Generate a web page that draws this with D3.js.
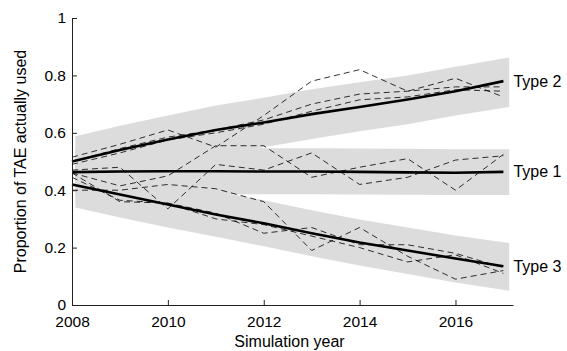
<!DOCTYPE html>
<html>
<head>
<meta charset="utf-8">
<script src="https://cdnjs.cloudflare.com/ajax/libs/d3/7.8.5/d3.min.js"></script>
<style>
  body { margin: 0; background: #fff; }
  text { font-family: "Liberation Sans", Arial, sans-serif; }
</style>
</head>
<body>
<div class="chart"></div>
<script>
// simulation years
var years = [2008, 2009, 2010, 2011, 2012, 2013, 2014, 2015, 2016, 2017];
var bandYears = [2008.07, 2009, 2010, 2011, 2012, 2013, 2014, 2015, 2016, 2017.12];

// mean proportion per type
var type1Mean = [0.463, 0.465, 0.466, 0.466, 0.465, 0.465, 0.464, 0.462, 0.461, 0.464];
var type2Mean = [0.50, 0.54, 0.577, 0.61, 0.636, 0.665, 0.69, 0.716, 0.745, 0.78];
var type3Mean = [0.42, 0.385, 0.35, 0.315, 0.285, 0.25, 0.218, 0.19, 0.162, 0.135];

// shaded range per type
var type1Lo = [0.385, 0.385, 0.386, 0.386, 0.386, 0.386, 0.385, 0.384, 0.383, 0.383];
var type1Hi = [0.545, 0.545, 0.546, 0.546, 0.546, 0.546, 0.545, 0.544, 0.543, 0.543];
var type2Lo = [0.415, 0.455, 0.49, 0.522, 0.55, 0.578, 0.605, 0.63, 0.66, 0.69];
var type2Hi = [0.588, 0.625, 0.66, 0.695, 0.722, 0.752, 0.776, 0.8, 0.83, 0.862];
var type3Lo = [0.34, 0.305, 0.27, 0.238, 0.205, 0.17, 0.138, 0.108, 0.078, 0.05];
var type3Hi = [0.5, 0.465, 0.43, 0.395, 0.365, 0.33, 0.298, 0.27, 0.242, 0.216];

// individual runs (dashed)
var type1Runs = [
  [0.47, 0.48, 0.335, 0.49, 0.47, 0.53, 0.42, 0.445, 0.505, 0.52],
  [0.46, 0.415, 0.45, 0.555, 0.555, 0.445, 0.48, 0.51, 0.40, 0.525]
];
var type2Runs = [
  [0.515, 0.56, 0.61, 0.55, 0.66, 0.78, 0.82, 0.745, 0.79, 0.725],
  [0.50, 0.545, 0.585, 0.61, 0.645, 0.70, 0.735, 0.745, 0.76, 0.76],
  [0.49, 0.53, 0.575, 0.6, 0.63, 0.675, 0.715, 0.725, 0.75, 0.745]
];
var type3Runs = [
  [0.40, 0.40, 0.42, 0.405, 0.36, 0.19, 0.27, 0.17, 0.09, 0.12],
  [0.445, 0.365, 0.355, 0.32, 0.25, 0.27, 0.21, 0.21, 0.18, 0.13],
  [0.46, 0.36, 0.355, 0.30, 0.28, 0.24, 0.20, 0.15, 0.175, 0.11]
];

var typeNames = ["Type 1", "Type 2", "Type 3"];
var yTicks = [0, 0.2, 0.4, 0.6, 0.8, 1];
var xTicks = [2008, 2010, 2012, 2014, 2016];

var svgWidth = 567, svgHeight = 351;
var margin = { top: 18, right: 54, bottom: 46, left: 72 };
var width = svgWidth - margin.left - margin.right;
var height = svgHeight - margin.top - margin.bottom;
var fontSize = 16;
var tickFont = 15.5;

var svg = d3.select(".chart").append("svg")
  .attr("width", svgWidth)
  .attr("height", svgHeight);

var chartGroup = svg.append("g")
  .attr("transform", `translate(${margin.left}, ${margin.top})`);

var x = d3.scaleLinear().domain([2008, 2017.2]).range([0, width]);
var y = d3.scaleLinear().domain([0, 1]).range([height, 0]);

var types = [
  { name: typeNames[0], mean: type1Mean, lo: type1Lo, hi: type1Hi, runs: type1Runs },
  { name: typeNames[1], mean: type2Mean, lo: type2Lo, hi: type2Hi, runs: type2Runs },
  { name: typeNames[2], mean: type3Mean, lo: type3Lo, hi: type3Hi, runs: type3Runs }
];

var area = d3.area()
  .x((d, i) => x(bandYears[i]))
  .y0(d => y(d[0]))
  .y1(d => y(d[1]));

var line = d3.line()
  .x((d, i) => x(years[i]))
  .y(d => y(d));

// bands first
types.forEach(function(t) {
  chartGroup.append("path")
    .datum(t.lo.map((v, i) => [v, t.hi[i]]))
    .attr("d", area)
    .attr("fill", "#dcdcdc");
});

// dashed runs
types.forEach(function(t) {
  t.runs.forEach(function(r) {
    chartGroup.append("path")
      .datum(r)
      .attr("d", line)
      .attr("fill", "none")
      .attr("stroke", "#000")
      .attr("stroke-width", 0.8)
      .attr("stroke-dasharray", "6,4");
  });
});

// mean lines
types.forEach(function(t) {
  chartGroup.append("path")
    .datum(t.mean)
    .attr("d", line)
    .attr("fill", "none")
    .attr("stroke", "#000")
    .attr("stroke-width", 2.6);

  chartGroup.append("text")
    .attr("x", x(years[years.length - 1]) + 10)
    .attr("y", y(t.mean[t.mean.length - 1]))
    .attr("dy", "0.35em")
    .attr("font-size", fontSize)
    .text(t.name);
});

// axes, ticks pointing inward
var bottomAxis = d3.axisBottom(x).tickValues(xTicks).tickFormat(d3.format("d"))
  .tickSizeInner(-5).tickSizeOuter(0).tickPadding(11);
var leftAxis = d3.axisLeft(y).tickValues(yTicks).tickFormat(d => d === 0 || d === 1 ? d : d3.format(".1f")(d))
  .tickSizeInner(-5).tickSizeOuter(0).tickPadding(6);

var xAxis = chartGroup.append("g")
  .attr("transform", `translate(0, ${height})`)
  .call(bottomAxis);
var yAxis = chartGroup.append("g").call(leftAxis);

[xAxis, yAxis].forEach(function(a) {
  a.select(".domain").attr("stroke", "#222");
  a.selectAll(".tick line").attr("stroke", "#222");
  a.selectAll("text").attr("font-size", tickFont).attr("fill", "#000")
    .attr("font-family", "Liberation Sans, Arial, sans-serif");
});

chartGroup.append("text")
  .attr("x", width / 2 - 3)
  .attr("y", height + 42)
  .attr("text-anchor", "middle")
  .attr("font-size", fontSize)
  .text("Simulation year");

chartGroup.append("text")
  .attr("transform", "rotate(-90)")
  .attr("x", -height / 2)
  .attr("y", -46)
  .attr("text-anchor", "middle")
  .attr("font-size", fontSize)
  .text("Proportion of TAE actually used");
</script>
</body>
</html>
